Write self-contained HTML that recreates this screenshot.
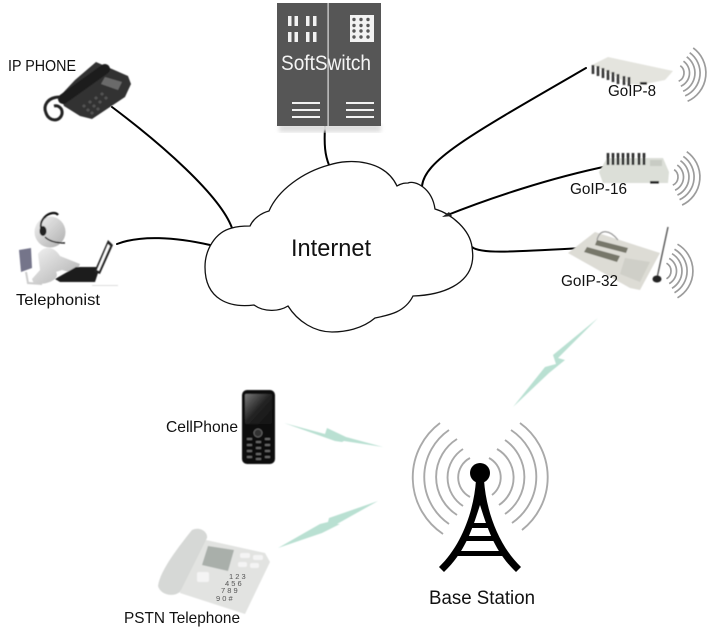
<!DOCTYPE html>
<html>
<head>
<meta charset="utf-8">
<style>
html,body{margin:0;padding:0;background:#fff;width:712px;height:633px;overflow:hidden}
svg{display:block}
text{font-family:"Liberation Sans",sans-serif;fill:#111}
</style>
</head>
<body>
<svg width="712" height="633" viewBox="0 0 712 633" xmlns="http://www.w3.org/2000/svg">
<defs>
<linearGradient id="bodyG" x1="0" y1="0" x2="1" y2="1"><stop offset="0" stop-color="#f2f2f2"/><stop offset="1" stop-color="#aeaeae"/></linearGradient>
<linearGradient id="scr" x1="0" y1="0" x2="1" y2="1"><stop offset="0" stop-color="#777"/><stop offset=".5" stop-color="#222"/><stop offset="1" stop-color="#111"/></linearGradient>
<filter id="soft"><feGaussianBlur stdDeviation="2"/></filter>
<filter id="s1"><feGaussianBlur stdDeviation="0.45"/></filter>
<g id="waves" fill="none" stroke="#9c9c9c" stroke-width="1.7">
<path d="M4.5,-7.8A9,9 0 0 1 4.5,7.8"/>
<path d="M7.2,-12.6A14.5,14.5 0 0 1 7.2,12.6"/>
<path d="M10,-17.3A20,20 0 0 1 10,17.3"/>
<path d="M12.5,-21.7A25,25 0 0 1 12.5,21.7"/>
<path d="M15.5,-26.8A31,31 0 0 1 15.5,26.8"/>
</g>
</defs>

<!-- connectors -->
<g fill="none" stroke="#000" stroke-width="2" stroke-linecap="round">
<path d="M112,107C160,143 220,195 232,228"/>
<path d="M117,244C140,235 175,237 210,245"/>
<path d="M325,127C324,145 325,155 329,165"/>
<path d="M422,186C425,160 470,135 586,68"/>
<path d="M445,216C490,198 550,178 608,166"/>
<path d="M472,247C480,254 510,252 583,248"/>
</g>

<!-- cloud -->
<path d="M269,211C278,190 303,172 329,165C350,158 385,160 397,186C402,183 405,183 408,183C415,180 432,188 435,209C452,214 470,230 472,247C473,255 473,258 472,263C468,283 445,295 413,296C405,312 390,315 375,318C362,329 345,332 332,332C315,332 298,322 288,306C280,311 265,313 254,305C230,308 205,300 205,267C205,250 215,232 232,228C238,226 244,226 250,226C253,219 261,213 269,211Z" fill="#fff" stroke="#111" stroke-width="1.3"/>
<path d="M442,217L449,212L452,216Z" fill="#222"/>
<text x="291" y="256" font-size="24" textLength="80" lengthAdjust="spacingAndGlyphs">Internet</text>

<!-- softswitch -->
<rect x="279" y="124" width="102" height="8" fill="#ddd" filter="url(#soft)"/>
<rect x="277" y="3" width="104" height="123" fill="#565656"/>
<rect x="327.5" y="3" width="1.2" height="123" fill="#ddd"/>
<g fill="#f2f2f2">
<rect x="288" y="16" width="3.5" height="10"/><rect x="294.5" y="16" width="3.5" height="10"/><rect x="306" y="16" width="3.5" height="10"/><rect x="313" y="16" width="3.5" height="10"/>
<rect x="288" y="32" width="3.5" height="10"/><rect x="294.5" y="32" width="3.5" height="10"/><rect x="306" y="32" width="3.5" height="10"/><rect x="313" y="32" width="3.5" height="10"/>
<rect x="350" y="15" width="24" height="27"/>
<rect x="292" y="102" width="28" height="2"/><rect x="292" y="109" width="28" height="2"/><rect x="292" y="116" width="28" height="2"/>
<rect x="346" y="102" width="28" height="2"/><rect x="346" y="109" width="28" height="2"/><rect x="346" y="116" width="28" height="2"/>
</g>
<g fill="#565656">
<circle cx="354" cy="19.5" r="1.7"/><circle cx="361" cy="19.5" r="1.7"/><circle cx="368" cy="19.5" r="1.7"/>
<circle cx="354" cy="25.5" r="1.7"/><circle cx="361" cy="25.5" r="1.7"/><circle cx="368" cy="25.5" r="1.7"/>
<circle cx="354" cy="31" r="1.7"/><circle cx="361" cy="31" r="1.7"/><circle cx="368" cy="31" r="1.7"/>
<circle cx="354" cy="37" r="1.7"/><circle cx="361" cy="37" r="1.7"/><circle cx="368" cy="37" r="1.7"/>
</g>
<text x="281" y="70" font-size="21" textLength="90" lengthAdjust="spacingAndGlyphs" style="fill:#f4f4f4">SoftSwitch</text>

<!-- IP phone -->
<g filter="url(#s1)">
<path d="M96,62L128,76L131,84L125,97L92,119L80,116L64,106L60,96L75,80Z" fill="#333"/>
<path d="M63,99L105,69" stroke="#1a1a1a" stroke-width="10" stroke-linecap="round" fill="none"/>
<path d="M60,97C47,97 43,106 46,113C49,122 60,122 62,114C63,108 58,105 54,106" fill="none" stroke="#222" stroke-width="3"/>
<path d="M105,77L122,82L118,90L101,84Z" fill="#6a6a6a"/>
<g fill="#555"><circle cx="84" cy="106" r="1.5"/><circle cx="90" cy="102" r="1.5"/><circle cx="96" cy="98" r="1.5"/><circle cx="102" cy="94" r="1.5"/><circle cx="88" cy="110" r="1.5"/><circle cx="94" cy="106" r="1.5"/><circle cx="100" cy="102" r="1.5"/><circle cx="106" cy="98" r="1.5"/><circle cx="92" cy="113" r="1.5"/><circle cx="98" cy="109" r="1.5"/></g>
</g>
<text x="8" y="71" font-size="15.5" textLength="68" lengthAdjust="spacingAndGlyphs">IP PHONE</text>

<!-- Telephonist -->
<g filter="url(#s1)">
<path d="M19,250L31,248L32,268L21,272Z" fill="#75758a"/>
<path d="M26,272L28,283L42,284" fill="none" stroke="#ccc" stroke-width="2"/>
<path d="M38,254C44,245 54,246 60,256L80,264L76,274L62,270L56,272C60,278 50,285 34,284L32,279L40,270Z" fill="url(#bodyG)"/>
<circle cx="50" cy="232" r="15.5" fill="url(#bodyG)"/>
<path d="M44,218C49,212 56,212 58,215" fill="none" stroke="#111" stroke-width="2.2"/>
<path d="M44,218C40,222 40,228 43,234" fill="none" stroke="#222" stroke-width="2"/>
<ellipse cx="43" cy="231" rx="3.5" ry="5" fill="#222"/>
<path d="M45,237C50,242 58,243 65,243" fill="none" stroke="#222" stroke-width="1.4"/>
<path d="M55,279L76,267L100,267L95,282L60,282Z" fill="#1b1b1b"/>
<path d="M94,272L108,240L113,245L100,274Z" fill="#222"/>
<path d="M97,270L108,244L110,246L99,271Z" fill="#fff"/>
<rect x="92" y="285" width="26" height="1" fill="#ddd"/>
</g>
<text x="16" y="305" font-size="16" textLength="84" lengthAdjust="spacingAndGlyphs">Telephonist</text>

<!-- GoIP-8 -->
<g filter="url(#s1)">
<path d="M592,65L608,57L673,71L665,80L640,85L630,84Z" fill="#e4e4de"/>
<g stroke="#333" stroke-width="2.6"><path d="M593,65V74"/><path d="M598,66V76"/><path d="M603,68V78"/><path d="M608,70V80"/><path d="M613,72V82"/><path d="M618,74V84"/><path d="M624,76V85"/><path d="M629,77V86"/></g>
<rect x="640" y="82" width="7" height="2.5" fill="#222"/>
</g>
<use href="#waves" transform="translate(675,73) rotate(6)"/>
<text x="608" y="96" font-size="16" textLength="48" lengthAdjust="spacingAndGlyphs">GoIP-8</text>

<!-- GoIP-16 -->
<g filter="url(#s1)">
<path d="M599,172L607,158L663,158L669,172L668,183L603,183Z" fill="#dcdfd8"/>
<g stroke="#2c2c2c" stroke-width="2.6"><path d="M608,153V165"/><path d="M613,153V165"/><path d="M618,153V165"/><path d="M623,153V165"/><path d="M628,153V165"/><path d="M633,153V165"/><path d="M639,153V165"/><path d="M644,153V165"/></g>
<rect x="650" y="160" width="12" height="6" fill="#c8cbc4"/>
<rect x="650" y="181" width="9" height="2.5" fill="#222"/>
</g>
<use href="#waves" transform="translate(669,177) rotate(5)"/>
<text x="570" y="194" font-size="16" textLength="57" lengthAdjust="spacingAndGlyphs">GoIP-16</text>

<!-- GoIP-32 -->
<g filter="url(#s1)">
<path d="M568,253L595,232L660,253L640,290L630,288Z" fill="#dddcd5"/>
<path d="M597,240L628,248L626,253L595,245Z" fill="#77776a"/>
<path d="M587,247L620,256L617,262L584,252Z" fill="#77776a"/>
<path d="M597,240C600,228 610,230 618,240" fill="none" stroke="#999" stroke-width="1.2"/>
<path d="M625,258L650,262L640,282L620,274Z" fill="#cfcfc8"/>
<path d="M668,227L657,278" stroke="#555" stroke-width="1.4"/>
<ellipse cx="657" cy="279" rx="4.5" ry="3.5" fill="#222"/>
</g>
<use href="#waves" transform="translate(662,271)"/>
<text x="561" y="286" font-size="16" textLength="57" lengthAdjust="spacingAndGlyphs">GoIP-32</text>

<!-- lightning -->
<g fill="#b9e0d2" filter="url(#s1)">
<path d="M513,407L545,367L556,364L553,355L598,318L558,358L565,360L549,373Z"/>
<path d="M284,423L325,434L327,428L346,437L383,447L344,441L342,442L335,441Z"/>
<path d="M278,548L320,524L328,522L329,518L378,501L337,524L340,524L322,533Z"/>
</g>

<!-- Cell phone -->
<g filter="url(#s1)">
<rect x="242" y="390" width="33" height="74" rx="5" fill="#111"/>
<rect x="245" y="394" width="27" height="30" rx="1" fill="url(#scr)"/>
<circle cx="258" cy="433" r="4" fill="#333" stroke="#666" stroke-width="1"/>
<g fill="#666"><rect x="247" y="438" width="5" height="2"/><rect x="256" y="441" width="5" height="2"/><rect x="265" y="438" width="5" height="2"/><rect x="247" y="444" width="5" height="2"/><rect x="256" y="447" width="5" height="2"/><rect x="265" y="444" width="5" height="2"/><rect x="247" y="450" width="5" height="2"/><rect x="256" y="453" width="5" height="2"/><rect x="265" y="450" width="5" height="2"/><rect x="247" y="456" width="5" height="2"/><rect x="256" y="458" width="5" height="2"/><rect x="265" y="456" width="5" height="2"/></g>
</g>
<text x="166" y="432" font-size="16" textLength="72" lengthAdjust="spacingAndGlyphs">CellPhone</text>

<!-- PSTN phone -->
<g filter="url(#s1)">
<path d="M206,540L265,553L270,562L245,614L180,593L190,560Z" fill="#e2e3e1"/>
<path d="M192,530C200,526 208,532 207,538L180,592C172,598 160,594 158,586C160,570 180,545 192,530Z" fill="#d6d8d6"/>
<path d="M208,546L234,550L228,571L202,565Z" fill="#a9afaa"/>
<g fill="#f4f4f4"><rect x="240" y="553" width="10" height="5" rx="2"/><rect x="253" y="555" width="10" height="5" rx="2"/><rect x="238" y="562" width="9" height="5" rx="2"/><rect x="250" y="563" width="9" height="5" rx="2"/><rect x="197" y="572" width="12" height="10" rx="2"/></g>
</g>
<g font-size="7.5"><text x="229" y="579" style="fill:#555">1 2 3</text><text x="225" y="586" style="fill:#555">4 5 6</text><text x="221" y="593" style="fill:#555">7 8 9</text><text x="216" y="601" style="fill:#555">9 0 #</text></g>
<text x="124" y="623" font-size="16" textLength="116" lengthAdjust="spacingAndGlyphs">PSTN Telephone</text>

<!-- Base station -->
<g fill="none" stroke="#a9a9a9" stroke-width="1.9">
<path d="M470,458A22,22 0 0 0 470,497"/>
<path d="M463,449A34,34 0 0 0 463,506"/>
<path d="M457,439A45,45 0 0 0 457,515"/>
<path d="M449,430A57,57 0 0 0 449,524"/>
<path d="M440,423A68,68 0 0 0 443,534"/>
<path d="M489,458A22,22 0 0 1 492,495"/>
<path d="M497,449A33,33 0 0 1 499,505"/>
<path d="M505,440A45,45 0 0 1 505,514"/>
<path d="M511,430A56,56 0 0 1 512,523"/>
<path d="M520,423A67,67 0 0 1 522,530"/>
</g>
<circle cx="480" cy="473" r="10" fill="#000"/>
<path d="M476,480L480,478L484,480C486,510 498,545 521,567L516,572C495,552 488,530 480,505C472,530 465,552 444,572L439,567C462,545 474,510 476,480Z" fill="#000"/>
<path d="M470,523H490V528H468ZM464,536H496V541H462ZM456,551H504V556H452Z" fill="#000"/>
<text x="429" y="604" font-size="19" textLength="106" lengthAdjust="spacingAndGlyphs">Base Station</text>
</svg>
</body>
</html>
